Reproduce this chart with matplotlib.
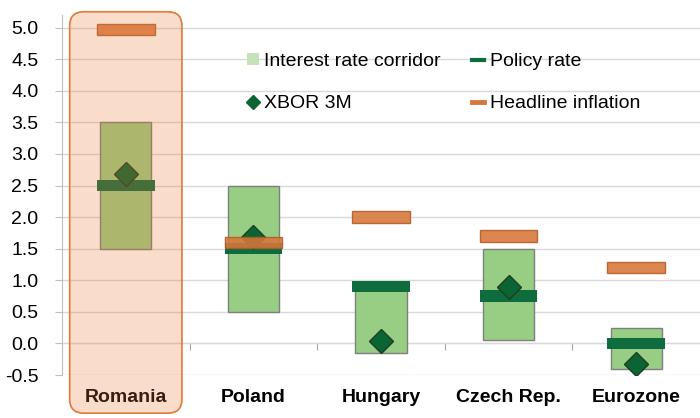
import numpy as np
import matplotlib
matplotlib.use("Agg")
import matplotlib.pyplot as plt
from matplotlib import rcParams
from matplotlib.patches import FancyBboxPatch, Patch
from matplotlib.lines import Line2D
import matplotlib.transforms as mtransforms

rcParams["font.family"] = ["Liberation Sans", "DejaVu Sans"]
rcParams["font.size"] = 14

# -----------------------------------------------------------------------------
# Data
# -----------------------------------------------------------------------------

countries = ["Romania", "Poland", "Hungary", "Czech Rep.", "Eurozone"]
corridor_low = [1.5, 0.5, -0.15, 0.05, -0.4]
corridor_high = [3.5, 2.5, 0.9, 1.5, 0.25]
policy_rate = [2.5, 1.5, 0.9, 0.75, 0.0]
xbor_3m = [2.68, 1.68, 0.04, 0.9, -0.33]
inflation = [4.97, 1.6, 2.0, 1.7, 1.2]
y_ticks = [-0.5, 0.0, 0.5, 1.0, 1.5, 2.0, 2.5, 3.0, 3.5, 4.0, 4.5, 5.0]

# colours
C_CORRIDOR = "#98CE83"
C_POLICY = "#0F6C3F"
C_XBOR = "#0B6434"
C_INFL = "#D8763A"
C_HIGHLIGHT = (0.914, 0.455, 0.184, 0.25)

# -----------------------------------------------------------------------------
# Plot
# -----------------------------------------------------------------------------

fig = plt.figure(figsize=(7.0, 4.18), dpi=100)
ax = fig.add_axes([62 / 700, 1 - 375 / 418, 638 / 700, 360 / 418])
ylim = (-0.5, 5.2)
ax.set_xlim(-0.5, 4.5)
ax.set_ylim(*ylim)

x = np.arange(len(countries))
low = np.array(corridor_low)
high = np.array(corridor_high)
bar_h = 0.18

ax.bar(x, high - low, bottom=low, width=0.4, color=C_CORRIDOR,
       edgecolor="#7F7F7F", linewidth=1.0, zorder=2)
ax.bar(x, bar_h, bottom=np.array(policy_rate) - bar_h / 2, width=0.45,
       color=C_POLICY, linewidth=0, zorder=3)
ax.plot(x, xbor_3m, linestyle="none", marker="D", markersize=12.5,
        color=C_XBOR, markeredgecolor="#1E3D22", markeredgewidth=1.0, zorder=4)
ax.bar(x, bar_h, bottom=np.array(inflation) - bar_h / 2, width=0.45,
       color=C_INFL, edgecolor="#B45A22", linewidth=1.0, alpha=0.88, zorder=5)

# Axes
ax.set_yticks(y_ticks)
ax.set_yticklabels([f"{v:.1f}" for v in y_ticks])
ax.yaxis.grid(True, color="#D9D9D9", linewidth=1.0, zorder=0)
ax.set_axisbelow(True)
ax.tick_params(axis="y", length=5, color="#BFBFBF", pad=12, labelsize=14)
ax.set_xticks(x)
ax.set_xticklabels(countries, fontweight="bold", fontsize=14)
ax.tick_params(axis="x", length=0, pad=10)
for side in ["top", "right", "bottom"]:
    ax.spines[side].set_visible(False)
ax.spines["left"].set_color("#BFBFBF")

# x axis line at zero, ticks between categories
zero_frac = (0 - ylim[0]) / (ylim[1] - ylim[0])
sec = ax.secondary_xaxis(zero_frac)
sec.set_xticks(x[:-1] + 0.5)
sec.set_xticklabels([])
sec.tick_params(length=5, color="#A6A6A6", direction="out")
sec.spines["bottom"].set_color("#A6A6A6")

# Highlight Romania
trans = mtransforms.blended_transform_factory(ax.transData, ax.transAxes)
box_kw = dict(boxstyle="round,pad=0,rounding_size=0.11",
              mutation_aspect=127.6 / 360, transform=trans,
              clip_on=False, zorder=6)
ax.add_patch(FancyBboxPatch((x[0] - 0.44, -0.106), 0.88, 1.115,
                            facecolor=C_HIGHLIGHT, edgecolor="none", **box_kw))
ax.add_patch(FancyBboxPatch((x[0] - 0.44, -0.106), 0.88, 1.115,
                            facecolor="none", edgecolor="#DE7A3B",
                            linewidth=1.2, **box_kw))

# Legend
handles = [
    Patch(facecolor="#C6E2B8", edgecolor="none", label="Interest rate corridor"),
    Line2D([], [], linestyle="none", marker="D", markersize=7, color=C_XBOR,
           label="XBOR 3M"),
    Line2D([], [], color=C_POLICY, linewidth=3, label="Policy rate"),
    Line2D([], [], color=C_INFL, linewidth=3.5, label="Headline inflation"),
]
ax.legend(handles=handles, ncol=2, frameon=False, loc="upper left",
          bbox_to_anchor=(247 / 700, 1 - 53 / 418),
          bbox_transform=fig.transFigure, borderpad=0, borderaxespad=0,
          handlelength=0.6, handleheight=0.6, handletextpad=0.3,
          columnspacing=1.6, labelspacing=1.3, fontsize=14)

fig.savefig("out.png", dpi=100)
